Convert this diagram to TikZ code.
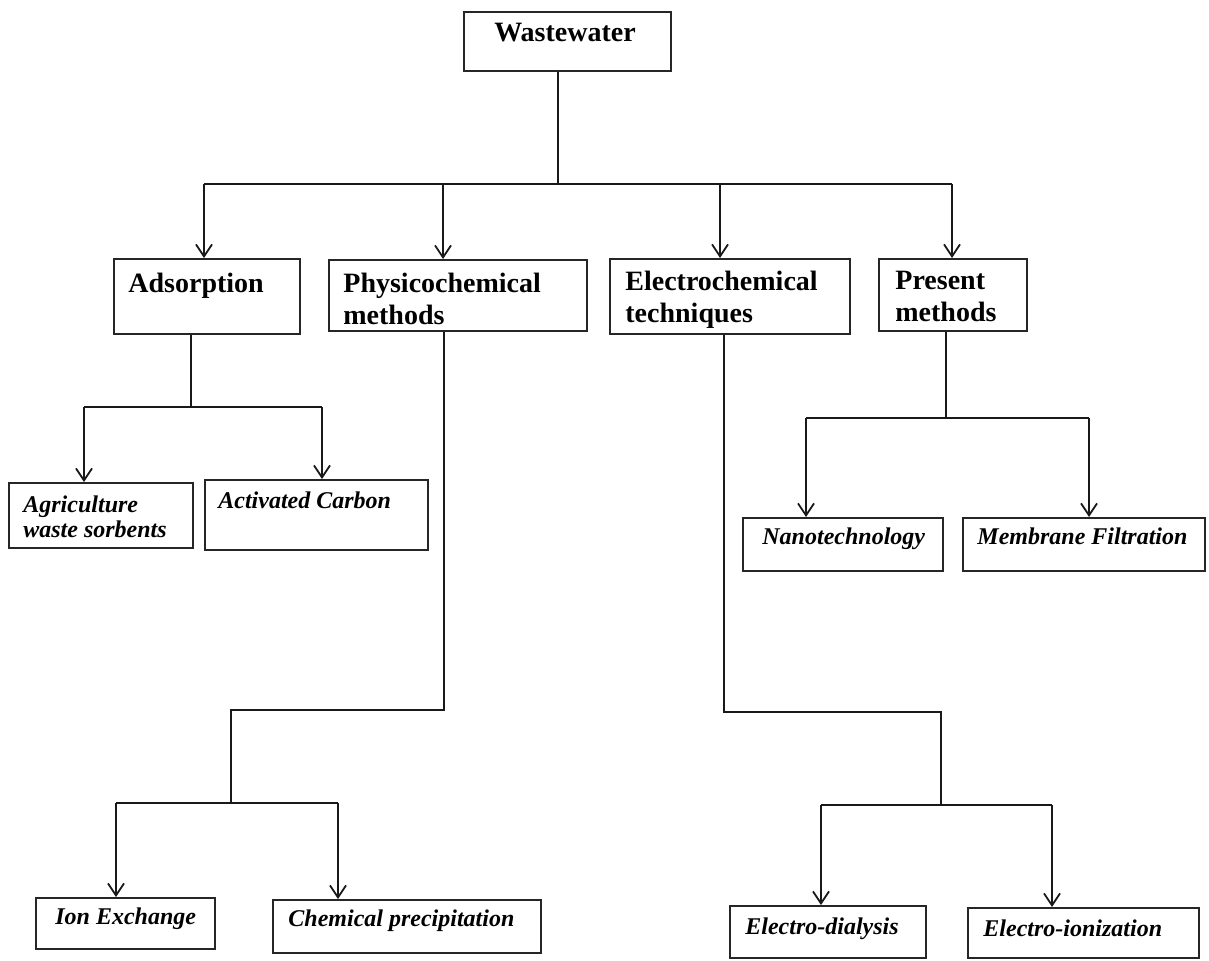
\documentclass[tikz,border=0pt]{standalone}
\usepackage{fontspec}
\setmainfont{Liberation Serif}
\usetikzlibrary{arrows.meta,positioning}

\begin{document}
\begin{tikzpicture}[
  x=0.5pt, y=-0.5pt,
  box/.style={rectangle, draw=black!85, line width=0.9pt, anchor=north west, inner sep=0pt},
  head/.style={anchor=north west, inner sep=0pt, align=left,
              font=\fontsize{14}{16}\selectfont\bfseries},
  leaf/.style={anchor=north west, inner sep=0pt, align=left,
              font=\fontsize{12}{12.5}\selectfont\bfseries\itshape},
  line/.style={draw=black!90, line width=0.9pt},
  arr/.style={line, -{Straight Barb[length=6pt,width=8pt]}}
]
\useasboundingbox (0,0) rectangle (1209,960);
% boxes
\node[box, minimum width=103.5pt, minimum height=29.5pt] (ww) at (463,11) {};
\node[box, minimum width=93pt, minimum height=37.5pt] (ads) at (113,258) {};
\node[box, minimum width=129pt, minimum height=35.5pt] (phys) at (328,259) {};
\node[box, minimum width=120pt, minimum height=37.5pt] (elec) at (609,258) {};
\node[box, minimum width=74pt, minimum height=36pt] (pres) at (878,258) {};
\node[box, minimum width=92pt, minimum height=32.5pt] (agri) at (8,482) {};
\node[box, minimum width=111.5pt, minimum height=35pt] (actc) at (204,479) {};
\node[box, minimum width=100pt, minimum height=26.5pt] (nano) at (742,517) {};
\node[box, minimum width=121pt, minimum height=26.5pt] (memb) at (962,517) {};
\node[box, minimum width=89.5pt, minimum height=25.5pt] (ion) at (35,897) {};
\node[box, minimum width=134pt, minimum height=26.5pt] (chem) at (272,899) {};
\node[box, minimum width=98pt, minimum height=26pt] (edia) at (729,905) {};
\node[box, minimum width=115.5pt, minimum height=25pt] (eion) at (967,907) {};
% texts
\node[head, anchor=north] (ww-t) at (565,23) {Wastewater};
\node[head] (ads-t) at (128,273) {Adsorption};
\node[head] (phys-t) at (343,273) {Physicochemical\\methods};
\node[head] (elec-t) at (625,271) {Electrochemical\\techniques};
\node[head] (pres-t) at (895,271) {Present\\methods};
\node[leaf] (agri-t) at (23,495) {Agriculture\\waste sorbents};
\node[leaf] (actc-t) at (218,491) {Activated Carbon};
\node[leaf] (nano-t) at (762,527) {Nanotechnology};
\node[leaf] (memb-t) at (977,527) {Membrane Filtration};
\node[leaf] (ion-t) at (55,907) {Ion Exchange};
\node[leaf] (chem-t) at (288,909) {Chemical precipitation};
\node[leaf] (edia-t) at (745,917) {Electro-dialysis};
\node[leaf] (eion-t) at (983,919) {Electro-ionization};
% junctions
\coordinate (j0) at (558,184);
\coordinate (b1) at (204,184); \coordinate (b2) at (443,184);
\coordinate (b3) at (720,184); \coordinate (b4) at (952,184);
\coordinate (a0) at (191,407); \coordinate (a1) at (84,407); \coordinate (a2) at (322,407);
\coordinate (r0) at (946,418); \coordinate (r1) at (806,418); \coordinate (r2) at (1089,418);
\coordinate (p0) at (444,710); \coordinate (p1) at (231,710);
\coordinate (p2) at (231,803); \coordinate (p3) at (116,803); \coordinate (p4) at (338,803);
\coordinate (e0) at (724,712); \coordinate (e1) at (941,712);
\coordinate (e2) at (941,805); \coordinate (e3) at (821,805); \coordinate (e4) at (1052,805);
% connectors
\draw[line] (ww.south -| j0) -- (j0); \draw[line] (b1) -- (b4);
\draw[arr] (b1) -- (b1 |- ads.north); \draw[arr] (b2) -- (b2 |- phys.north);
\draw[arr] (b3) -- (b3 |- elec.north); \draw[arr] (b4) -- (b4 |- pres.north);
\draw[line] (ads.south -| a0) -- (a0); \draw[line] (a1) -- (a2);
\draw[arr] (a1) -- (a1 |- agri.north); \draw[arr] (a2) -- (a2 |- actc.north);
\draw[line] (pres.south -| r0) -- (r0); \draw[line] (r1) -- (r2);
\draw[arr] (r1) -- (r1 |- nano.north); \draw[arr] (r2) -- (r2 |- memb.north);
\draw[line] (phys.south -| p0) -- (p0) -- (p1) -- (p2); \draw[line] (p3) -- (p4);
\draw[arr] (p3) -- (p3 |- ion.north); \draw[arr] (p4) -- (p4 |- chem.north);
\draw[line] (elec.south -| e0) -- (e0) -- (e1) -- (e2); \draw[line] (e3) -- (e4);
\draw[arr] (e3) -- (e3 |- edia.north); \draw[arr] (e4) -- (e4 |- eion.north);
\end{tikzpicture}
\end{document}
